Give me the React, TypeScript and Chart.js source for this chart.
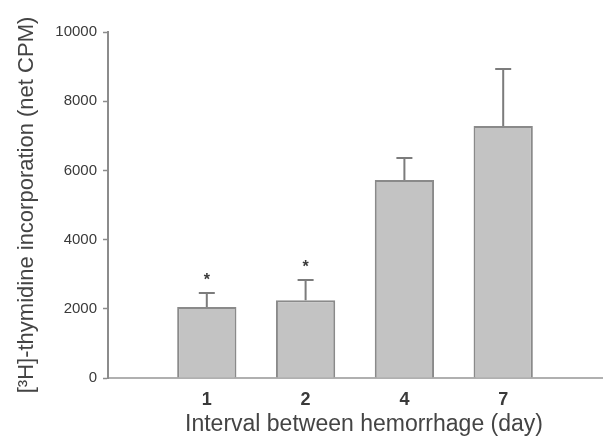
import React, { useEffect, useRef } from "react";
import { Chart, registerables } from "chart.js";

Chart.register(...registerables);

// Interval between hemorrhages (days) and [3H]-thymidine incorporation (net CPM)
const days = ["1", "2", "4", "7"];
const meanCpm = [2050, 2250, 5720, 7280];
const semCpm = [410, 580, 640, 1650];
const significant = [true, true, false, false];
const yTicks = [0, 2000, 4000, 6000, 8000, 10000];
const xTitle = "Interval between hemorrhage (day)";
const yTitle = "[³H]-thymidine incorporation (net CPM)";

// The x axis leaves one empty slot on each side of the four groups.
const axisLabels = ["", ...days, ""];
const axisValues = [null, ...meanCpm, null];

const TEXT = "#3a3a3a";
const AXIS = "#8c8c8c";
const FONT = "'Liberation Sans', Arial, sans-serif";

const errorBarPlugin = {
  id: "errorBars",
  afterDatasetsDraw(chart: any) {
    const { ctx } = chart;
    const yScale = chart.scales.y;
    const meta = chart.getDatasetMeta(0);
    ctx.save();
    ctx.strokeStyle = "#7c7c7c";
    ctx.lineWidth = 2;
    meanCpm.forEach((m, i) => {
      const bar = meta.data[i + 1];
      if (!bar) return;
      const x = bar.x;
      const yBase = yScale.getPixelForValue(m);
      const yTop = yScale.getPixelForValue(m + semCpm[i]);
      ctx.beginPath();
      ctx.moveTo(x, yBase);
      ctx.lineTo(x, yTop);
      ctx.moveTo(x - 8, yTop);
      ctx.lineTo(x + 8, yTop);
      ctx.stroke();
      if (significant[i]) {
        ctx.fillStyle = TEXT;
        ctx.font = `bold 16px ${FONT}`;
        ctx.textAlign = "center";
        ctx.textBaseline = "middle";
        ctx.fillText("*", x, yTop - 12);
      }
    });
    ctx.restore();
  },
};

// x-axis title, centred slightly right of the plot centre
const xTitlePlugin = {
  id: "xTitle",
  afterDraw(chart: any) {
    const { ctx, chartArea } = chart;
    ctx.save();
    ctx.fillStyle = "#444";
    ctx.font = `23px ${FONT}`;
    ctx.textAlign = "center";
    ctx.textBaseline = "middle";
    ctx.fillText(xTitle, (chartArea.left + chartArea.right) / 2 + 9, chart.height - 16);
    ctx.restore();
  },
};

export default function App() {
  const canvasRef = useRef<HTMLCanvasElement | null>(null);

  useEffect(() => {
    if (!canvasRef.current) return;
    const chart = new Chart(canvasRef.current, {
      type: "bar",
      data: {
        labels: axisLabels,
        datasets: [
          {
            data: axisValues as any,
            backgroundColor: "#c3c3c3",
            borderColor: "#8a8a8a",
            borderWidth: 2,
            borderSkipped: "start",
            categoryPercentage: 1,
            barPercentage: 0.6,
          },
        ],
      },
      options: {
        animation: false,
        responsive: false,
        maintainAspectRatio: false,
        layout: { padding: { left: 0, right: 8, top: 32, bottom: 0 } },
        plugins: {
          legend: { display: false },
          tooltip: { enabled: false },
        },
        scales: {
          x: {
            type: "category",
            offset: false,
            grid: { display: false, drawTicks: false, offset: false },
            border: { display: true, color: "#b0b0b0", width: 2 },
            ticks: {
              color: TEXT,
              padding: 11,
              maxRotation: 0,
              autoSkip: false,
              font: { family: FONT, size: 18, weight: "bold" },
            },
            title: { display: false },
            afterFit(scale: any) {
              scale.height = 63;
            },
          },
          y: {
            min: 0,
            max: 10000,
            afterBuildTicks(scale: any) {
              scale.ticks = yTicks.map((v) => ({ value: v }));
            },
            grid: {
              drawOnChartArea: false,
              drawTicks: true,
              tickLength: 5,
              tickWidth: 1.5,
              tickColor: AXIS,
            },
            border: { display: true, color: AXIS, width: 2 },
            ticks: {
              color: TEXT,
              padding: 6,
              callback: (v: any) => String(v),
              font: { family: FONT, size: 15 },
            },
            title: {
              display: true,
              text: yTitle,
              color: "#444",
              padding: { top: 14, bottom: 0 },
              font: { family: FONT, size: 22 },
            },
            afterFit(scale: any) {
              scale.width = 108;
            },
          },
        },
      },
      plugins: [errorBarPlugin, xTitlePlugin],
    });
    return () => chart.destroy();
  }, []);

  return (
    <div style={{ position: "fixed", left: 0, top: 0, width: 613, height: 441, background: "#fff" }}>
      <canvas ref={canvasRef} width={613} height={441} style={{ display: "block" }} />
    </div>
  );
}
